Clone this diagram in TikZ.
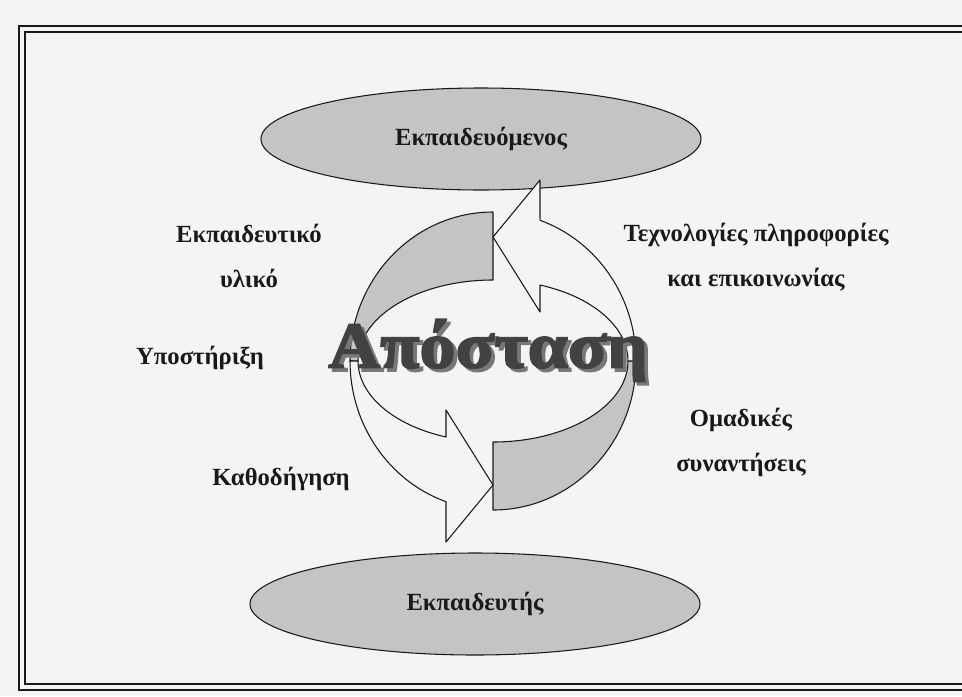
\documentclass[tikz,border=0pt]{standalone}
\usepackage{fontspec}
\setmainfont{Liberation Serif}
\newfontfamily\heavyfont[FakeBold=2.5]{Liberation Serif Bold}
\usetikzlibrary{shapes.geometric}

\definecolor{paper}{RGB}{244,244,242}
\definecolor{shade}{RGB}{196,196,196}
\definecolor{ink}{RGB}{25,25,25}
\definecolor{word}{RGB}{66,66,66}
\definecolor{wordshadow}{RGB}{120,120,120}

\tikzset{
  role/.style={ellipse,draw=ink,thick,fill=shade,inner sep=0pt,
    font=\bfseries\fontsize{18.5}{22}\selectfont,text=ink},
  lbl/.style={font=\bfseries\fontsize{18.5}{33.75}\selectfont,align=center,text=ink},
  band/.style={draw=ink,line width=0.8pt,fill=shade,line join=round},
  bandwhite/.style={draw=ink,line width=0.8pt,fill=paper,line join=round},
  bigword/.style={font=\heavyfont\fontsize{49}{49}\selectfont,xscale=1.1}
}

\begin{document}
\begin{tikzpicture}[x=0.75pt,y=-0.75pt]
\useasboundingbox (0,0) rectangle (962,696);
\fill[paper] (0,0) rectangle (962,696);
\draw[line width=1.5pt,ink] (975,26) -- (19,26) -- (19,690) -- (975,690);
\draw[line width=1pt,ink] (975,32) -- (25,32) -- (25,684) -- (975,684);

\node (learner) [role,minimum width=330pt,minimum height=76.5pt] at (481,139) {Εκπαιδευόμενος};
\node (tutor) [role,minimum width=337.5pt,minimum height=76.5pt] at (475,604) {Εκπαιδευτής};

% cycle
\filldraw[band] (493,212) arc[start angle=270,end angle=180,x radius=143,y radius=149]
  -- (358,361) arc[start angle=180,end angle=270,x radius=135,y radius=81] -- cycle;
\filldraw[band] (493,510) arc[start angle=90,end angle=0,x radius=143,y radius=149]
  -- (628,361) arc[start angle=0,end angle=90,x radius=135,y radius=81] -- cycle;
\filldraw[bandwhite] (350,361) arc[start angle=180,end angle=109.2,x radius=143,y radius=149]
  -- (446,542) -- (493,485) -- (446,410) -- (446,437)
  arc[start angle=110.4,end angle=180,x radius=135,y radius=81] -- cycle;
\filldraw[bandwhite] (636,361) arc[start angle=360,end angle=289.2,x radius=143,y radius=149]
  -- (540,180) -- (493,237) -- (540,312) -- (540,285)
  arc[start angle=290.4,end angle=360,x radius=135,y radius=81] -- cycle;

\node (distance) [bigword] at (488,352)
  {\rlap{\kern2.5pt\raisebox{-2.5pt}{\color{wordshadow}Απόσταση}}\color{word}Απόσταση};

\node (material) [lbl] at (249,256) {Εκπαιδευτικό\\υλικό};
\node (ict) [lbl] at (756,257) {Τεχνολογίες πληροφορίες\\και επικοινωνίας};
\node (support) [lbl] at (200,358) {Υποστήριξη};
\node (guidance) [lbl] at (281,479) {Καθοδήγηση};
\node (meetings) [lbl] at (741,442) {Ομαδικές\\συναντήσεις};
\end{tikzpicture}
\end{document}
